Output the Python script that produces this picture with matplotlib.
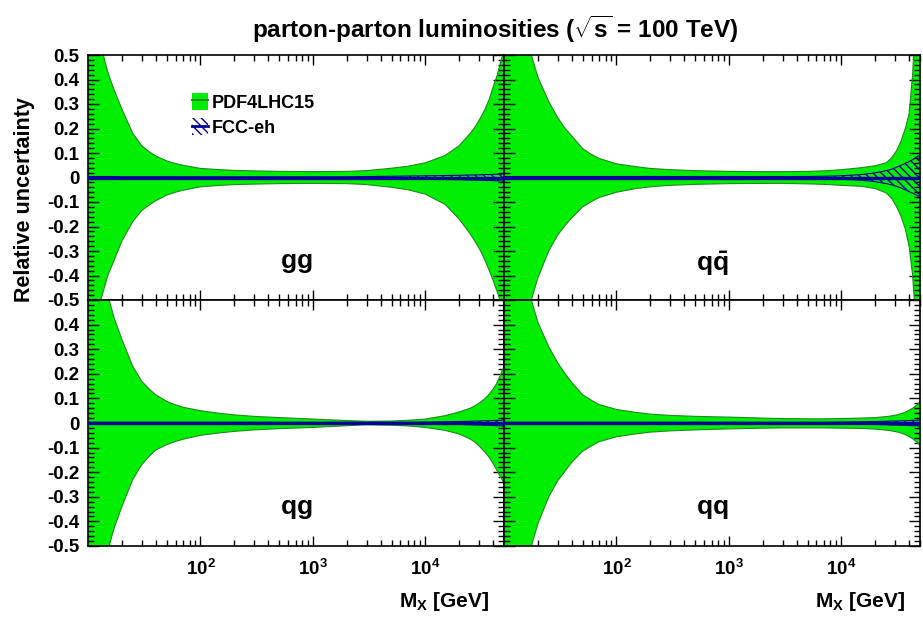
import numpy as np
import matplotlib
matplotlib.use('Agg')
import matplotlib.pyplot as plt
from matplotlib.patches import Patch
from matplotlib.lines import Line2D
from matplotlib.ticker import FixedLocator, LogLocator, NullFormatter, FuncFormatter

# invariant mass grid (GeV)
mass = [10, 12, 13, 15, 17, 20, 25, 30, 35, 40, 50, 60, 70, 100, 150, 200, 300,
        500, 1000, 2000, 3000, 5000, 7000, 10000, 15000, 20000, 25000, 28000,
        31000, 34000, 37000, 40000, 43000, 46000, 50000]

# PDF4LHC15 band, upper / lower edges
gg_up = [0.85, 0.62, 0.54, 0.43, 0.36, 0.28, 0.18, 0.13, 0.105, 0.088, 0.068,
         0.057, 0.050, 0.037, 0.032, 0.029, 0.027, 0.025, 0.024, 0.025, 0.028,
         0.038, 0.046, 0.060, 0.090, 0.130, 0.18, 0.21, 0.245, 0.28, 0.32, 0.37,
         0.41, 0.46, 0.52]
gg_dn = [-0.75, -0.56, -0.50, -0.40, -0.34, -0.26, -0.18, -0.135, -0.112, -0.095,
         -0.072, -0.060, -0.052, -0.038, -0.032, -0.029, -0.027, -0.025, -0.024,
         -0.025, -0.029, -0.040, -0.050, -0.068, -0.11, -0.17, -0.23, -0.265,
         -0.30, -0.34, -0.38, -0.42, -0.46, -0.50, -0.56]
qqbar_up = [1.3, 1.0, 0.87, 0.64, 0.52, 0.41, 0.31, 0.245, 0.20, 0.17, 0.118,
            0.094, 0.078, 0.056, 0.044, 0.037, 0.032, 0.028, 0.025, 0.024, 0.024,
            0.025, 0.027, 0.032, 0.040, 0.048, 0.060, 0.080, 0.11, 0.15, 0.20,
            0.26, 0.42, 0.7, 1.0]
qqbar_dn = [-1.3, -1.0, -0.87, -0.64, -0.52, -0.41, -0.30, -0.235, -0.195, -0.165,
            -0.12, -0.098, -0.082, -0.060, -0.045, -0.038, -0.032, -0.028, -0.025,
            -0.024, -0.024, -0.026, -0.028, -0.032, -0.036, -0.045, -0.063, -0.085,
            -0.12, -0.16, -0.21, -0.28, -0.40, -0.6, -1.0]
qg_up = [0.95, 0.72, 0.65, 0.52, 0.43, 0.34, 0.23, 0.17, 0.138, 0.115, 0.088,
         0.074, 0.064, 0.050, 0.039, 0.033, 0.027, 0.022, 0.016, 0.010, 0.007,
         0.008, 0.011, 0.016, 0.030, 0.045, 0.060, 0.072, 0.085, 0.10, 0.118,
         0.138, 0.16, 0.19, 0.23]
qg_dn = [-0.95, -0.72, -0.65, -0.52, -0.43, -0.34, -0.23, -0.17, -0.135, -0.11,
         -0.088, -0.075, -0.066, -0.050, -0.040, -0.034, -0.028, -0.023, -0.018,
         -0.011, -0.007, -0.009, -0.012, -0.018, -0.030, -0.045, -0.065, -0.08,
         -0.10, -0.12, -0.14, -0.165, -0.19, -0.215, -0.245]
qq_up = [1.3, 1.0, 0.87, 0.64, 0.52, 0.41, 0.31, 0.245, 0.20, 0.165, 0.115,
         0.092, 0.075, 0.055, 0.043, 0.036, 0.031, 0.027, 0.024, 0.020, 0.018,
         0.017, 0.017, 0.018, 0.020, 0.022, 0.026, 0.029, 0.033, 0.038, 0.044,
         0.052, 0.060, 0.070, 0.085]
qq_dn = [-1.3, -1.0, -0.87, -0.64, -0.52, -0.41, -0.30, -0.235, -0.195, -0.16,
         -0.115, -0.093, -0.076, -0.056, -0.044, -0.037, -0.032, -0.028, -0.024,
         -0.021, -0.020, -0.020, -0.020, -0.021, -0.022, -0.025, -0.029, -0.032,
         -0.036, -0.041, -0.047, -0.055, -0.064, -0.075, -0.09]

# FCC-eh band, upper / lower edges
gg_fcc_up = [0.004, 0.004, 0.004, 0.004, 0.004, 0.003, 0.003, 0.003, 0.003, 0.003,
             0.003, 0.003, 0.003, 0.003, 0.003, 0.003, 0.003, 0.003, 0.003, 0.003,
             0.004, 0.005, 0.006, 0.007, 0.008, 0.009, 0.010, 0.011, 0.011, 0.012,
             0.012, 0.013, 0.013, 0.014, 0.015]
gg_fcc_dn = [-v for v in gg_fcc_up]
qqbar_fcc_up = [0.004, 0.004, 0.004, 0.004, 0.004, 0.004, 0.004, 0.004, 0.004,
                0.004, 0.004, 0.004, 0.004, 0.004, 0.004, 0.004, 0.004, 0.004,
                0.004, 0.004, 0.004, 0.004, 0.005, 0.007, 0.012, 0.019, 0.028,
                0.034, 0.042, 0.050, 0.058, 0.065, 0.073, 0.082, 0.092]
qqbar_fcc_dn = [-0.004, -0.004, -0.004, -0.004, -0.004, -0.004, -0.004, -0.004,
                -0.004, -0.004, -0.004, -0.004, -0.004, -0.004, -0.004, -0.004,
                -0.004, -0.004, -0.004, -0.004, -0.004, -0.004, -0.005, -0.007,
                -0.011, -0.017, -0.025, -0.030, -0.036, -0.043, -0.050, -0.058,
                -0.064, -0.071, -0.078]
qg_fcc_up = [0.003, 0.003, 0.003, 0.003, 0.003, 0.003, 0.003, 0.003, 0.003, 0.003,
             0.003, 0.003, 0.003, 0.003, 0.003, 0.003, 0.003, 0.003, 0.003, 0.003,
             0.003, 0.003, 0.003, 0.004, 0.005, 0.006, 0.007, 0.008, 0.008, 0.009,
             0.009, 0.010, 0.011, 0.011, 0.012]
qg_fcc_dn = [-v for v in qg_fcc_up]
qq_fcc_up = [0.003, 0.003, 0.003, 0.003, 0.003, 0.003, 0.003, 0.003, 0.003, 0.003,
             0.003, 0.003, 0.003, 0.003, 0.003, 0.003, 0.003, 0.003, 0.003, 0.003,
             0.003, 0.003, 0.003, 0.004, 0.005, 0.006, 0.007, 0.008, 0.008, 0.009,
             0.009, 0.010, 0.011, 0.011, 0.012]
qq_fcc_dn = [-v for v in qq_fcc_up]

channels = [r'$\mathbf{gg}$', r'$\mathbf{q\bar{q}}$', r'$\mathbf{qg}$', r'$\mathbf{qq}$']
pdf_up = [gg_up, qqbar_up, qg_up, qq_up]
pdf_dn = [gg_dn, qqbar_dn, qg_dn, qq_dn]
fcc_up = [gg_fcc_up, qqbar_fcc_up, qg_fcc_up, qq_fcc_up]
fcc_dn = [gg_fcc_dn, qqbar_fcc_dn, qg_fcc_dn, qq_fcc_dn]

GREEN = '#00ee00'
DKGREEN = '#1f8a1f'
NAVY = '#000099'

plt.rcParams['font.family'] = ['Liberation Sans', 'DejaVu Sans']
plt.rcParams['font.weight'] = 'bold'
plt.rcParams['mathtext.fontset'] = 'custom'
plt.rcParams['mathtext.rm'] = 'Liberation Sans:bold'
plt.rcParams['mathtext.bf'] = 'Liberation Sans:bold'
plt.rcParams['mathtext.it'] = 'Liberation Sans:bold:italic'
plt.rcParams['axes.unicode_minus'] = False
plt.rcParams['hatch.linewidth'] = 1.0

fig = plt.figure(figsize=(9.23, 6.18), dpi=100)

x0, xm, x1 = 88 / 923, 504 / 923, 920 / 923
y0, ym, y1 = 1 - 546 / 618, 1 - 300 / 618, 1 - 55 / 618
boxes = [(x0, ym, xm - x0, y1 - ym), (xm, ym, x1 - xm, y1 - ym),
         (x0, y0, xm - x0, ym - y0), (xm, y0, x1 - xm, ym - y0)]


def ylab(v, lim):
    v = round(v, 1) + 0.0
    return ('%g' % v) if v < lim else ''


m = np.array(mass)
for i, box in enumerate(boxes):
    ax = fig.add_axes(box)
    up = np.array(pdf_up[i])
    dn = np.array(pdf_dn[i])
    ax.fill_between(m, dn, up, facecolor=GREEN, edgecolor='none', zorder=1)
    ax.plot(m, up, color=DKGREEN, lw=0.8, zorder=2)
    ax.plot(m, dn, color=DKGREEN, lw=0.8, zorder=2)
    ax.fill_between(m, fcc_dn[i], fcc_up[i], facecolor='none', edgecolor=NAVY,
                    hatch='\\\\\\\\', lw=0.8, zorder=3)
    ax.axhline(0, color=NAVY, lw=2.4, zorder=4)

    ax.set_xscale('log')
    ax.set_xlim(10, 50000)
    ax.set_ylim(-0.5, 0.5)

    ax.xaxis.set_major_locator(FixedLocator([1e2, 1e3, 1e4]))
    ax.xaxis.set_minor_locator(LogLocator(base=10, subs=np.arange(2, 10)))
    ax.xaxis.set_minor_formatter(NullFormatter())
    ax.yaxis.set_major_locator(FixedLocator(np.round(np.arange(-0.5, 0.51, 0.1), 1)))
    ax.yaxis.set_minor_locator(FixedLocator(np.round(np.arange(-0.5, 0.51, 0.02), 2)))

    ax.tick_params(which='both', direction='in', top=True, right=True, width=1.0,
                   labelsize=13.5)
    ax.tick_params(axis='y', which='major', length=8, pad=6)
    ax.tick_params(axis='y', which='minor', length=4)
    ax.tick_params(axis='x', which='major', length=7, pad=9)
    ax.tick_params(axis='x', which='minor', length=4)
    for s in ax.spines.values():
        s.set_linewidth(1.2)

    if i % 2 == 0:
        lim = 0.55 if i == 0 else 0.45
        ax.yaxis.set_major_formatter(FuncFormatter(lambda v, p, lim=lim: ylab(v, lim)))
    else:
        ax.set_yticklabels([])
    if i < 2:
        ax.set_xticklabels([])
    else:
        ax.xaxis.set_major_formatter(FuncFormatter(
            lambda v, p: r'$\mathbf{10^{%d}}$' % round(np.log10(v))))
        ax.text(0.965, -0.224, r'M$_{\mathbf{X}}$ [GeV]', transform=ax.transAxes,
                ha='right', va='center', fontsize=15)

    ax.text(0.5, 0.15, channels[i], transform=ax.transAxes, ha='center',
            va='center', fontsize=19)

    if i == 0:
        h1 = (Patch(facecolor=GREEN, edgecolor='none'),
              Line2D([], [], color=DKGREEN, lw=1.5))
        h2 = (Patch(facecolor='none', edgecolor=NAVY, hatch='\\\\\\\\', lw=0),
              Line2D([], [], color=NAVY, lw=2))
        ax.legend([h1, h2], ['PDF4LHC15', 'FCC-eh'], loc='upper left',
                  bbox_to_anchor=(0.25, 0.845), frameon=False, fontsize=13,
                  handlelength=0.9, handleheight=1.1, handletextpad=0.2,
                  labelspacing=0.35, borderpad=0, borderaxespad=0)

fig.text(0.536, 1 - 29 / 618, r'parton-parton luminosities ($\sqrt{\mathbf{s}}$ = 100 TeV)',
         ha='center', va='center', fontsize=17.5)
fig.text(0.027, 1 - 200 / 618, 'Relative uncertainty', rotation=90,
         ha='center', va='center', fontsize=15.5)

fig.savefig('out.png', dpi=100)
